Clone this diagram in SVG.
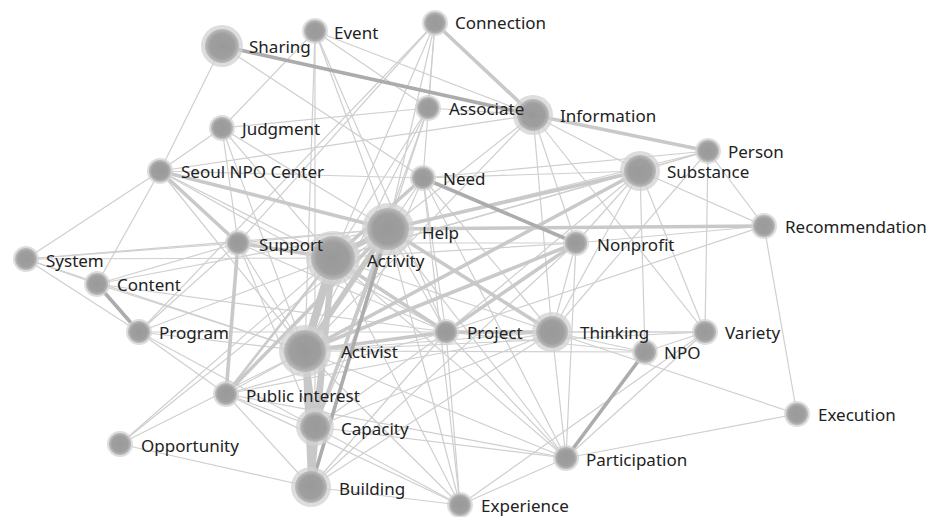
<svg xmlns="http://www.w3.org/2000/svg" width="926" height="517" viewBox="0 0 926 517">
  <defs>
    <radialGradient id="nodeFill" cx="50%" cy="50%" r="50%">
      <stop offset="0%" stop-color="#959595"/>
      <stop offset="72%" stop-color="#9a9a9a"/>
      <stop offset="100%" stop-color="#b9b9b9"/>
    </radialGradient>
    <style>
      .e { stroke: #cfcfcf; stroke-width: 1.2; fill: none; stroke-linecap: round; }
      .t2 { stroke-width: 2.6; stroke: #cbcbcb; }
      .t3 { stroke-width: 3.6; stroke: #c9c9c9; }
      .t5 { stroke-width: 5.5; stroke: #c8c8c8; }
      .t8 { stroke-width: 8; stroke: #c6c6c6; }
      .dk { stroke: #acacac; }
      .halo { fill: #d2d2d2; opacity: 0.75; }
      .core { fill: url(#nodeFill); opacity: 0.93; }
      text { font-family: "Noto Sans", "Liberation Sans", sans-serif; font-size: 17px; fill: #222; }
    </style>
  </defs>
  <rect width="926" height="517" fill="#ffffff"/>

  <!-- links -->
  <g id="edges">
    <!-- thin links -->
    <line class="e" x1="222" y1="46" x2="160" y2="171"/>
    <line class="e" x1="222" y1="46" x2="423" y2="178"/>
    <line class="e" x1="315" y1="31" x2="222" y2="128"/>
    <line class="e" x1="315" y1="31" x2="305" y2="351"/>
    <line class="e" x1="315" y1="31" x2="315" y2="427"/>
    <line class="e" x1="315" y1="31" x2="388" y2="229"/>
    <line class="e" x1="315" y1="31" x2="533" y2="115"/>
    <line class="e" x1="315" y1="31" x2="428" y2="108"/>
    <line class="e" x1="315" y1="31" x2="446" y2="332"/>
    <line class="e" x1="435" y1="23" x2="238" y2="243"/>
    <line class="e" x1="435" y1="23" x2="139" y2="332"/>
    <line class="e" x1="435" y1="23" x2="388" y2="229"/>
    <line class="e" x1="435" y1="23" x2="423" y2="178"/>
    <line class="e" x1="435" y1="23" x2="428" y2="108"/>
    <line class="e" x1="435" y1="23" x2="333" y2="258"/>
    <line class="e" x1="428" y1="108" x2="222" y2="128"/>
    <line class="e" x1="428" y1="108" x2="388" y2="229"/>
    <line class="e" x1="428" y1="108" x2="333" y2="258"/>
    <line class="e" x1="428" y1="108" x2="305" y2="351"/>
    <line class="e" x1="428" y1="108" x2="315" y2="427"/>
    <line class="e" x1="428" y1="108" x2="533" y2="115"/>
    <line class="e" x1="160" y1="171" x2="533" y2="115"/>
    <line class="e" x1="533" y1="115" x2="640" y2="171"/>
    <line class="e" x1="533" y1="115" x2="576" y2="243"/>
    <line class="e" x1="533" y1="115" x2="552" y2="332"/>
    <line class="e" x1="533" y1="115" x2="705" y2="332"/>
    <line class="e" x1="533" y1="115" x2="388" y2="229"/>
    <line class="e" x1="533" y1="115" x2="305" y2="351"/>
    <line class="e" x1="222" y1="128" x2="160" y2="171"/>
    <line class="e" x1="222" y1="128" x2="238" y2="243"/>
    <line class="e" x1="222" y1="128" x2="333" y2="258"/>
    <line class="e" x1="222" y1="128" x2="305" y2="351"/>
    <line class="e" x1="222" y1="128" x2="388" y2="229"/>
    <line class="e" x1="160" y1="171" x2="423" y2="178"/>
    <line class="e" x1="160" y1="171" x2="26" y2="259"/>
    <line class="e" x1="160" y1="171" x2="97" y2="284"/>
    <line class="e" x1="160" y1="171" x2="333" y2="258"/>
    <line class="e" x1="160" y1="171" x2="305" y2="351"/>
    <line class="e" x1="160" y1="171" x2="446" y2="332"/>
    <line class="e" x1="26" y1="259" x2="238" y2="243"/>
    <line class="e" x1="26" y1="259" x2="333" y2="258"/>
    <line class="e" x1="26" y1="259" x2="388" y2="229"/>
    <line class="e" x1="26" y1="259" x2="97" y2="284"/>
    <line class="e" x1="26" y1="259" x2="139" y2="332"/>
    <line class="e" x1="26" y1="259" x2="305" y2="351"/>
    <line class="e" x1="97" y1="284" x2="238" y2="243"/>
    <line class="e" x1="97" y1="284" x2="388" y2="229"/>
    <line class="e" x1="97" y1="284" x2="305" y2="351"/>
    <line class="e" x1="97" y1="284" x2="446" y2="332"/>
    <line class="e" x1="139" y1="332" x2="238" y2="243"/>
    <line class="e" x1="139" y1="332" x2="305" y2="351"/>
    <line class="e" x1="139" y1="332" x2="226" y2="394"/>
    <line class="e" x1="139" y1="332" x2="315" y2="427"/>
    <line class="e" x1="139" y1="332" x2="333" y2="258"/>
    <line class="e" x1="139" y1="332" x2="446" y2="332"/>
    <line class="e" x1="238" y1="243" x2="388" y2="229"/>
    <line class="e" x1="238" y1="243" x2="305" y2="351"/>
    <line class="e" x1="238" y1="243" x2="315" y2="427"/>
    <line class="e" x1="238" y1="243" x2="576" y2="243"/>
    <line class="e" x1="238" y1="243" x2="446" y2="332"/>
    <line class="e" x1="120" y1="444" x2="305" y2="351"/>
    <line class="e" x1="120" y1="444" x2="388" y2="229"/>
    <line class="e" x1="120" y1="444" x2="311" y2="487"/>
    <line class="e" x1="120" y1="444" x2="333" y2="258"/>
    <line class="e" x1="226" y1="394" x2="305" y2="351"/>
    <line class="e" x1="226" y1="394" x2="315" y2="427"/>
    <line class="e" x1="226" y1="394" x2="311" y2="487"/>
    <line class="e" x1="226" y1="394" x2="460" y2="505"/>
    <line class="e" x1="226" y1="394" x2="446" y2="332"/>
    <line class="e" x1="226" y1="394" x2="566" y2="458"/>
    <line class="e" x1="226" y1="394" x2="552" y2="332"/>
    <line class="e" x1="315" y1="427" x2="566" y2="458"/>
    <line class="e" x1="315" y1="427" x2="460" y2="505"/>
    <line class="e" x1="315" y1="427" x2="552" y2="332"/>
    <line class="e" x1="315" y1="427" x2="446" y2="332"/>
    <line class="e" x1="311" y1="487" x2="460" y2="505"/>
    <line class="e" x1="311" y1="487" x2="446" y2="332"/>
    <line class="e" x1="311" y1="487" x2="552" y2="332"/>
    <line class="e" x1="311" y1="487" x2="576" y2="243"/>
    <line class="e" x1="460" y1="505" x2="446" y2="332"/>
    <line class="e" x1="460" y1="505" x2="566" y2="458"/>
    <line class="e" x1="460" y1="505" x2="305" y2="351"/>
    <line class="e" x1="460" y1="505" x2="333" y2="258"/>
    <line class="e" x1="460" y1="505" x2="423" y2="178"/>
    <line class="e" x1="460" y1="505" x2="705" y2="332"/>
    <line class="e" x1="460" y1="505" x2="388" y2="229"/>
    <line class="e" x1="566" y1="458" x2="446" y2="332"/>
    <line class="e" x1="566" y1="458" x2="552" y2="332"/>
    <line class="e" x1="566" y1="458" x2="797" y2="414"/>
    <line class="e" x1="566" y1="458" x2="705" y2="332"/>
    <line class="e" x1="566" y1="458" x2="305" y2="351"/>
    <line class="e" x1="566" y1="458" x2="388" y2="229"/>
    <line class="e" x1="566" y1="458" x2="333" y2="258"/>
    <line class="e" x1="566" y1="458" x2="423" y2="178"/>
    <line class="e" x1="552" y1="332" x2="576" y2="243"/>
    <line class="e" x1="552" y1="332" x2="640" y2="171"/>
    <line class="e" x1="552" y1="332" x2="705" y2="332"/>
    <line class="e" x1="552" y1="332" x2="645" y2="352"/>
    <line class="e" x1="552" y1="332" x2="797" y2="414"/>
    <line class="e" x1="552" y1="332" x2="708" y2="151"/>
    <line class="e" x1="705" y1="332" x2="708" y2="151"/>
    <line class="e" x1="705" y1="332" x2="640" y2="171"/>
    <line class="e" x1="705" y1="332" x2="645" y2="352"/>
    <line class="e" x1="705" y1="332" x2="305" y2="351"/>
    <line class="e" x1="705" y1="332" x2="446" y2="332"/>
    <line class="e" x1="645" y1="352" x2="640" y2="171"/>
    <line class="e" x1="645" y1="352" x2="446" y2="332"/>
    <line class="e" x1="797" y1="414" x2="764" y2="226"/>
    <line class="e" x1="764" y1="226" x2="708" y2="151"/>
    <line class="e" x1="764" y1="226" x2="640" y2="171"/>
    <line class="e" x1="764" y1="226" x2="576" y2="243"/>
    <line class="e" x1="764" y1="226" x2="446" y2="332"/>
    <line class="e" x1="708" y1="151" x2="640" y2="171"/>
    <line class="e" x1="708" y1="151" x2="423" y2="178"/>
    <line class="e" x1="708" y1="151" x2="388" y2="229"/>
    <line class="e" x1="708" y1="151" x2="333" y2="258"/>
    <line class="e" x1="640" y1="171" x2="423" y2="178"/>
    <line class="e" x1="640" y1="171" x2="576" y2="243"/>
    <line class="e" x1="640" y1="171" x2="446" y2="332"/>
    <line class="e" x1="640" y1="171" x2="333" y2="258"/>
    <line class="e" x1="576" y1="243" x2="333" y2="258"/>
    <line class="e" x1="576" y1="243" x2="566" y2="458"/>
    <line class="e" x1="423" y1="178" x2="305" y2="351"/>
    <line class="e" x1="423" y1="178" x2="446" y2="332"/>
    <line class="e" x1="423" y1="178" x2="552" y2="332"/>
    <line class="e" x1="423" y1="178" x2="315" y2="427"/>
    <line class="e" x1="388" y1="229" x2="446" y2="332"/>
    <line class="e" x1="333" y1="258" x2="552" y2="332"/>
    <line class="e" x1="305" y1="351" x2="552" y2="332"/>
    <line class="e" x1="305" y1="351" x2="645" y2="352"/>

    <!-- heavier links -->
    <line class="e t2" x1="226" y1="394" x2="333" y2="258"/>
    <line class="e t3" x1="160" y1="171" x2="238" y2="243"/>
    <line class="e t3" x1="160" y1="171" x2="388" y2="229"/>
    <line class="e t3" x1="238" y1="243" x2="226" y2="394"/>
    <line class="e t3" x1="238" y1="243" x2="333" y2="258"/>
    <line class="e t3" x1="226" y1="394" x2="388" y2="229"/>
    <line class="e t3" x1="435" y1="23" x2="533" y2="115"/>
    <line class="e t3" x1="533" y1="115" x2="708" y2="151"/>
    <line class="e t3" x1="423" y1="178" x2="333" y2="258"/>
    <line class="e t3" x1="305" y1="351" x2="640" y2="171"/>
    <line class="e t3" x1="305" y1="351" x2="576" y2="243"/>
    <line class="e t3" x1="446" y1="332" x2="576" y2="243"/>
    <line class="e t3" x1="333" y1="258" x2="446" y2="332"/>
    <line class="e t3" x1="305" y1="351" x2="446" y2="332"/>
    <line class="e t3" x1="446" y1="332" x2="552" y2="332"/>
    <line class="e t3" x1="388" y1="229" x2="552" y2="332"/>
    <line class="e t3" x1="388" y1="229" x2="640" y2="171"/>
    <line class="e t3" x1="388" y1="229" x2="764" y2="226"/>
    <line class="e t3" x1="388" y1="229" x2="315" y2="427"/>
    <line class="e t3" x1="315" y1="427" x2="311" y2="487"/>
    <line class="e t3 dk" x1="222" y1="46" x2="533" y2="115"/>
    <line class="e t3 dk" x1="423" y1="178" x2="576" y2="243"/>
    <line class="e t3 dk" x1="97" y1="284" x2="139" y2="332"/>
    <line class="e t3 dk" x1="645" y1="352" x2="566" y2="458"/>
    <line class="e t3 dk" x1="388" y1="229" x2="311" y2="487"/>
    <line class="e t5" x1="333" y1="258" x2="315" y2="427"/>
    <line class="e t5" x1="333" y1="258" x2="311" y2="487"/>
    <line class="e t5" x1="305" y1="351" x2="315" y2="427"/>
    <line class="e t5" x1="305" y1="351" x2="311" y2="487"/>
    <line class="e t5" x1="388" y1="229" x2="305" y2="351"/>
    <line class="e t5" x1="388" y1="229" x2="333" y2="258"/>
    <line class="e t8" x1="333" y1="258" x2="305" y2="351"/>
  </g>

  <!-- terms (drawn so that each label sits above its neighbours' discs) -->
  <g id="n-sharing"><circle class="halo" cx="222" cy="46" r="21"/><circle class="core" cx="222" cy="46" r="17"/><text x="249" y="53">Sharing</text></g>
  <g id="n-event"><circle class="halo" cx="315" cy="31" r="13"/><circle class="core" cx="315" cy="31" r="11"/><text x="334" y="39">Event</text></g>
  <g id="n-connection"><circle class="halo" cx="435" cy="23" r="13"/><circle class="core" cx="435" cy="23" r="11"/><text x="455" y="29">Connection</text></g>
  <g id="n-information"><circle class="halo" cx="533" cy="115" r="20"/><circle class="core" cx="533" cy="115" r="16"/><text x="560" y="122">Information</text></g>
  <g id="n-associate"><circle class="halo" cx="428" cy="108" r="13"/><circle class="core" cx="428" cy="108" r="11"/><text x="449" y="115">Associate</text></g>
  <g id="n-judgment"><circle class="halo" cx="222" cy="128" r="13"/><circle class="core" cx="222" cy="128" r="11"/><text x="242" y="135">Judgment</text></g>
  <g id="n-seoul-npo-center"><circle class="halo" cx="160" cy="171" r="13"/><circle class="core" cx="160" cy="171" r="11"/><text x="181" y="178">Seoul NPO Center</text></g>
  <g id="n-need"><circle class="halo" cx="423" cy="178" r="13"/><circle class="core" cx="423" cy="178" r="11"/><text x="443" y="185">Need</text></g>
  <g id="n-person"><circle class="halo" cx="708" cy="151" r="13"/><circle class="core" cx="708" cy="151" r="11"/><text x="728" y="158">Person</text></g>
  <g id="n-substance"><circle class="halo" cx="640" cy="171" r="20"/><circle class="core" cx="640" cy="171" r="16"/><text x="667" y="178">Substance</text></g>
  <g id="n-activity"><circle class="halo" cx="333" cy="258" r="27"/><circle class="core" cx="333" cy="258" r="22"/><text x="367" y="267">Activity</text></g>
  <g id="n-help"><circle class="halo" cx="388" cy="229" r="26"/><circle class="core" cx="388" cy="229" r="21"/><text x="422" y="239">Help</text></g>
  <g id="n-support"><circle class="halo" cx="238" cy="243" r="13"/><circle class="core" cx="238" cy="243" r="11"/><text x="259" y="251">Support</text></g>
  <g id="n-nonprofit"><circle class="halo" cx="576" cy="243" r="13"/><circle class="core" cx="576" cy="243" r="11"/><text x="597" y="251">Nonprofit</text></g>
  <g id="n-recommendation"><circle class="halo" cx="764" cy="226" r="13"/><circle class="core" cx="764" cy="226" r="11"/><text x="785" y="233">Recommendation</text></g>
  <g id="n-system"><circle class="halo" cx="26" cy="259" r="13"/><circle class="core" cx="26" cy="259" r="11"/><text x="46" y="267">System</text></g>
  <g id="n-content"><circle class="halo" cx="97" cy="284" r="13"/><circle class="core" cx="97" cy="284" r="11"/><text x="117" y="291">Content</text></g>
  <g id="n-program"><circle class="halo" cx="139" cy="332" r="13"/><circle class="core" cx="139" cy="332" r="11"/><text x="159" y="339">Program</text></g>
  <g id="n-project"><circle class="halo" cx="446" cy="332" r="13"/><circle class="core" cx="446" cy="332" r="11"/><text x="467" y="339">Project</text></g>
  <g id="n-npo"><circle class="halo" cx="645" cy="352" r="13"/><circle class="core" cx="645" cy="352" r="11"/><text x="664" y="359">NPO</text></g>
  <g id="n-thinking"><circle class="halo" cx="552" cy="332" r="20"/><circle class="core" cx="552" cy="332" r="16"/><text x="580" y="339">Thinking</text></g>
  <g id="n-variety"><circle class="halo" cx="705" cy="332" r="13"/><circle class="core" cx="705" cy="332" r="11"/><text x="725" y="339">Variety</text></g>
  <g id="n-activist"><circle class="halo" cx="305" cy="351" r="26"/><circle class="core" cx="305" cy="351" r="21"/><text x="341" y="358">Activist</text></g>
  <g id="n-capacity"><circle class="halo" cx="315" cy="427" r="19"/><circle class="core" cx="315" cy="427" r="15"/><text x="341" y="435">Capacity</text></g>
  <g id="n-public-interest"><circle class="halo" cx="226" cy="394" r="13"/><circle class="core" cx="226" cy="394" r="11"/><text x="246" y="402">Public interest</text></g>
  <g id="n-opportunity"><circle class="halo" cx="120" cy="444" r="13"/><circle class="core" cx="120" cy="444" r="11"/><text x="141" y="452">Opportunity</text></g>
  <g id="n-participation"><circle class="halo" cx="566" cy="458" r="13"/><circle class="core" cx="566" cy="458" r="11"/><text x="586" y="466">Participation</text></g>
  <g id="n-execution"><circle class="halo" cx="797" cy="414" r="13"/><circle class="core" cx="797" cy="414" r="11"/><text x="818" y="421">Execution</text></g>
  <g id="n-building"><circle class="halo" cx="311" cy="487" r="20"/><circle class="core" cx="311" cy="487" r="16"/><text x="339" y="495">Building</text></g>
  <g id="n-experience"><circle class="halo" cx="460" cy="505" r="13"/><circle class="core" cx="460" cy="505" r="11"/><text x="481" y="512">Experience</text></g>
</svg>
